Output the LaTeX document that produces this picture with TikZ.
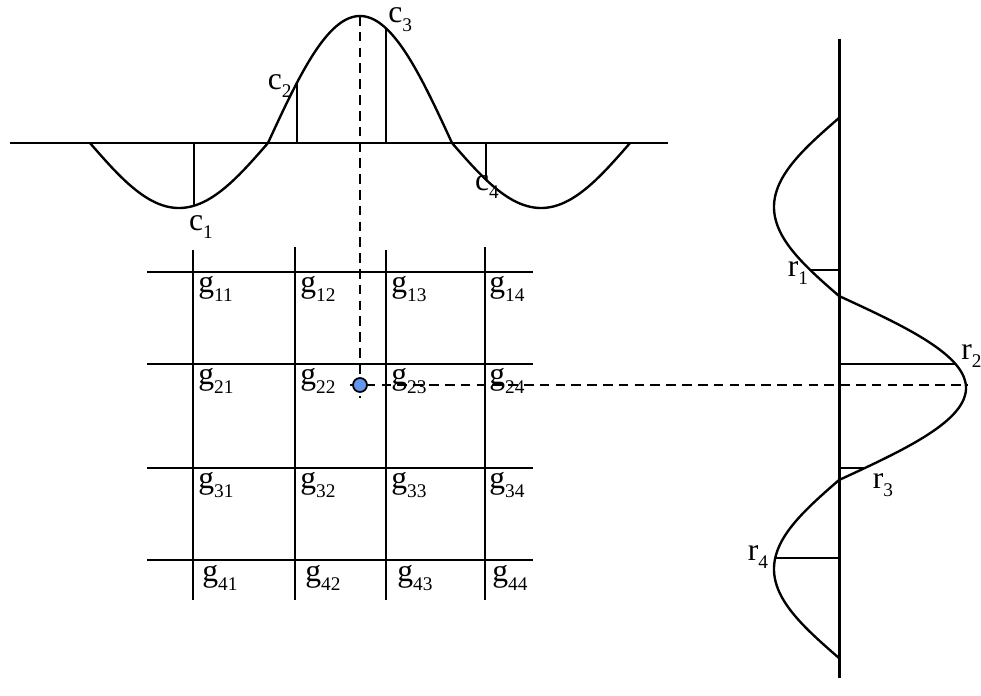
\documentclass[tikz,border=0pt]{standalone}
\usepackage{fontspec}
\setmainfont{Liberation Serif}
\definecolor{dotblue}{RGB}{100,150,240}
\newcommand{\lsub}[2]{#1\raisebox{-0.6ex}{\fontsize{11}{13}\selectfont #2}}

\begin{document}
\begin{tikzpicture}[x=0.02cm,y=-0.02cm,
  declare function={kern(\q)=(abs(\q)<=92)*127*cos(\q*0.978) - (abs(\q)>92)*65*sin((abs(\q)-92)*1.011);},
  every node/.style={font=\fontsize{18}{21}\selectfont, inner sep=0pt},
  axis/.style={line width=1.7pt},
  wave/.style={line width=1.35pt, line join=round},
  tap/.style={line width=1.7pt},
  gridline/.style={line width=1.7pt},
  guide/.style={line width=1.2pt, dash pattern=on 5.5pt off 3.5pt}]
\useasboundingbox (0,0) rectangle (981,696);

% column kernel (top)
\draw[axis] (10,143) -- (668,143);
\draw[wave] plot[domain=-270:270, samples=271] ({360+\x}, {143-kern(\x)});
\draw[tap] (194,143) -- (194,{143-kern(194-360)});
\draw[tap] (297,143) -- (297,{143-kern(297-360)});
\draw[tap] (386,143) -- (386,{143-kern(386-360)});
\draw[tap] (486,143) -- (486,{143-kern(486-360)});
\node (c1) at (201,227) {\lsub{c}{1}};
\node[anchor=east] (c2) at (292,86) {\lsub{c}{2}};
\node[anchor=west] (c3) at (388,20) {\lsub{c}{3}};
\node (c4) at (487,187) {\lsub{c}{4}};

% row kernel (right)
\draw[axis] (839,39) -- (839,678);
\draw[wave] plot[domain=-270:270, samples=271] ({839+kern(\x)}, {388+\x});
\draw[tap] (839,270) -- ({839+kern(270-388)},270);
\draw[tap] (839,364) -- ({839+kern(364-388)},364);
\draw[tap] (839,468) -- ({839+kern(468-388)},468);
\draw[tap] (839,558) -- ({839+kern(558-388)},558);
\node (r1) at (798,273) {\lsub{r}{1}};
\node[anchor=west] (r2) at (961,356) {\lsub{r}{2}};
\node (r3) at (883,485) {\lsub{r}{3}};
\node (r4) at (758,557) {\lsub{r}{4}};

% grid
\draw[gridline] (147,272) -- (533,272);
\draw[gridline] (147,364) -- (533,364);
\draw[gridline] (147,468) -- (533,468);
\draw[gridline] (147,560) -- (533,560);
\draw[gridline] (193,250) -- (193,600);
\draw[gridline] (295,247) -- (295,600);
\draw[gridline] (386,250) -- (386,600);
\draw[gridline] (485,247) -- (485,600);

\node[anchor=north west] (g11) at (198,276) {\lsub{g}{11}};
\node[anchor=north west] (g12) at (300,276) {\lsub{g}{12}};
\node[anchor=north west] (g13) at (391,276) {\lsub{g}{13}};
\node[anchor=north west] (g14) at (489,276) {\lsub{g}{14}};
\node[anchor=north west] (g21) at (198,368) {\lsub{g}{21}};
\node[anchor=north west] (g22) at (300,368) {\lsub{g}{22}};
\node[anchor=north west] (g23) at (391,368) {\lsub{g}{23}};
\node[anchor=north west] (g24) at (489,368) {\lsub{g}{24}};
\node[anchor=north west] (g31) at (198,472) {\lsub{g}{31}};
\node[anchor=north west] (g32) at (300,472) {\lsub{g}{32}};
\node[anchor=north west] (g33) at (391,472) {\lsub{g}{33}};
\node[anchor=north west] (g34) at (489,472) {\lsub{g}{34}};
\node[anchor=north west] (g41) at (202,565) {\lsub{g}{41}};
\node[anchor=north west] (g42) at (305,565) {\lsub{g}{42}};
\node[anchor=north west] (g43) at (397,565) {\lsub{g}{43}};
\node[anchor=north west] (g44) at (492,565) {\lsub{g}{44}};

% sample point
\coordinate (top) at (360,16);
\coordinate (bot) at (360,398);
\coordinate (lft) at (350,385);
\coordinate (rgt) at (967,385);
\draw[guide] (top) -- (bot);
\draw[guide] (lft) -- (rgt);
\node[circle, draw, line width=1pt, fill=dotblue, minimum size=0.28cm] (pt) at (360,385) {};
\end{tikzpicture}
\end{document}
